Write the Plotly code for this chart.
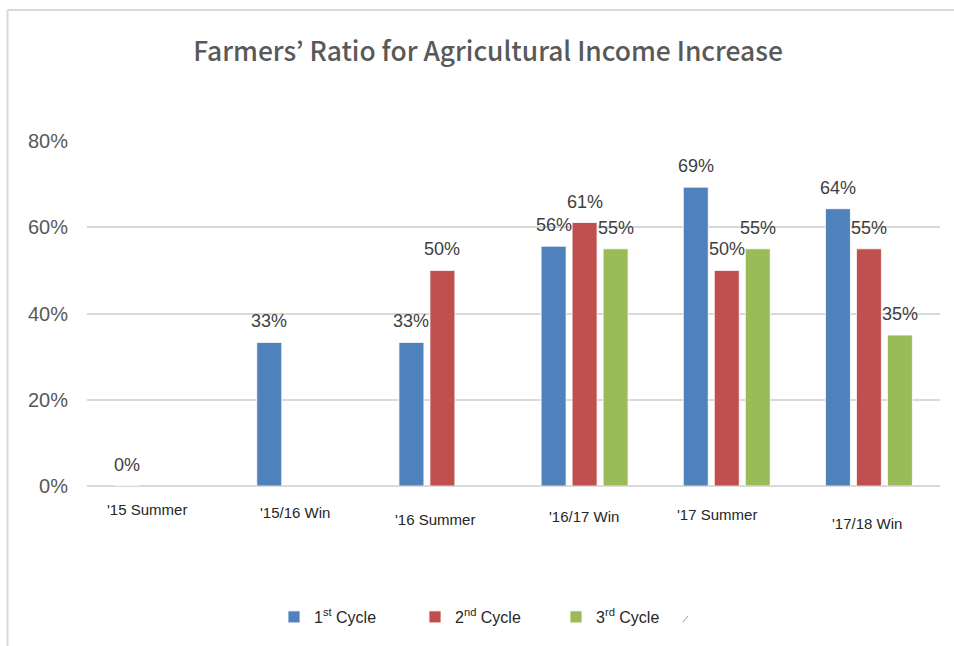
import plotly.graph_objects as go

# ---- data ----
categories = ["'15 Summer", "'15/16 Win", "'16 Summer", "'16/17 Win", "'17 Summer", "'17/18 Win"]
series_names = ["1<sup>st</sup> Cycle", "2<sup>nd</sup> Cycle", "3<sup>rd</sup> Cycle"]
cycle1 = [0.0, 0.333, 0.333, 0.556, 0.693, 0.643]
cycle2 = [None, None, 0.50, 0.611, 0.50, 0.55]
cycle3 = [None, None, None, 0.55, 0.55, 0.35]
y_ticks = [0, 0.2, 0.4, 0.6, 0.8]
title_text = "Farmers’ Ratio for Agricultural Income Increase"

# ---- styles ----
colors = ["#4F81BD", "#C0504D", "#9BBB59"]
series = [cycle1, cycle2, cycle3]
label_xshift = [-31, 0, 31]
cat_label_xshift = [-11, -5, -7, -1, -10, -2]
cat_label_yshift = [-23, -26, -33, -30, -28, -37]

W, H = 954, 646
L, R, T, B = 87, 14, 141, 160
pw, ph = W - L - R, H - T - B

def px_x(x):
    return (x - L) / pw

def px_y(y):
    return (H - B - y) / ph

fig = go.Figure()
for name, vals, col in zip(series_names, series, colors):
    fig.add_trace(go.Bar(
        x=categories, y=vals, name=name,
        marker=dict(color=col, line=dict(color="white", width=0.8)),
        hoverinfo="skip",
    ))

annotations = []
# data labels
for vals, dx in zip(series, label_xshift):
    for c, v in zip(categories, vals):
        if v is None:
            continue
        annotations.append(dict(
            x=c, y=v, xref="x", yref="y", text=f"{round(v * 100)}%",
            showarrow=False, xshift=dx, yshift=21, yanchor="middle",
            font=dict(family="Liberation Sans, Arial", size=18, color="#404040"),
        ))
# category labels
for c, dx, dy in zip(categories, cat_label_xshift, cat_label_yshift):
    annotations.append(dict(
        x=c, y=0, xref="x", yref="paper", text=c, showarrow=False,
        xshift=dx, yshift=dy, yanchor="middle",
        font=dict(family="Liberation Sans, Arial", size=15, color="#262626"),
    ))

shapes = [
    # outer frame (left and top)
    dict(type="line", xref="paper", yref="paper", x0=px_x(7.5), x1=px_x(7.5), y0=px_y(10), y1=px_y(H + 2),
         line=dict(color="#d9d9d9", width=2)),
    dict(type="line", xref="paper", yref="paper", x0=px_x(7.5), x1=px_x(W + 2), y0=px_y(10), y1=px_y(10),
         line=dict(color="#d9d9d9", width=2)),
    # stray tick mark near legend
    dict(type="line", xref="paper", yref="paper", x0=px_x(683), x1=px_x(688), y0=px_y(622), y1=px_y(616),
         line=dict(color="#999999", width=1)),
]

fig.update_layout(
    width=W, height=H,
    margin=dict(l=L, r=R, t=T, b=B),
    paper_bgcolor="white", plot_bgcolor="white",
    barmode="group", bargap=0.346, bargroupgap=0.194,
    title=dict(text=title_text, x=px_x(488), xref="paper", xanchor="center",
               y=1 - 52 / H, yref="container", yanchor="middle",
               font=dict(family="Noto Sans CJK JP", size=26.4, weight=500, color="#595959")),
    xaxis=dict(showticklabels=False, showgrid=False, zeroline=False, showline=False, ticks=""),
    yaxis=dict(range=[0, 0.8], tickvals=y_ticks, tickformat=".0%",
               showgrid=True, gridcolor="#d9d9d9", gridwidth=1.5,
               zeroline=True, zerolinecolor="#d9d9d9", zerolinewidth=1.5,
               showline=False, ticks="", ticklabelstandoff=18,
               tickfont=dict(family="Liberation Sans, Arial", size=20, color="#595959")),
    legend=dict(orientation="h", x=px_x(274), xanchor="left", y=px_y(617), yanchor="middle",
                entrywidth=96, entrywidthmode="pixels",
                font=dict(family="Liberation Sans, Arial", size=16, color="#262626"),
                bgcolor="rgba(0,0,0,0)"),
    annotations=annotations,
    shapes=shapes,
    showlegend=True,
)

fig.write_html("out.html")
